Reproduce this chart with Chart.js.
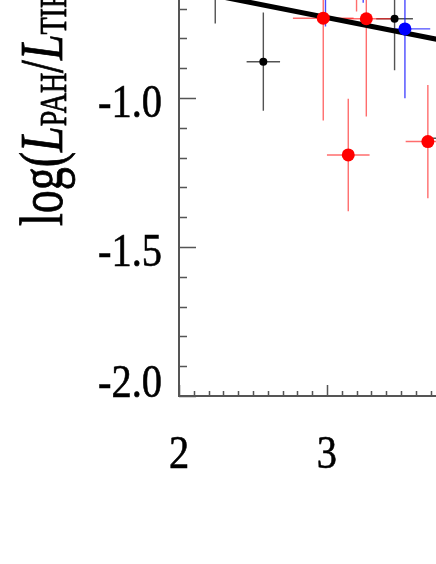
<!DOCTYPE html>
<html>
<head>
<meta charset="utf-8">
<script src="https://cdn.jsdelivr.net/npm/chart.js@4.4.0/dist/chart.umd.min.js"></script>
<style>
    html, body { margin: 0; padding: 0; background: #fff; overflow: hidden; }
    #wrap { width: 436px; height: 564px; }
</style>
</head>
<body>
<div id="wrap"><canvas id="pahChart" width="436" height="564"></canvas></div>
<script>
// visible window of the plot (top and right run off the picture)
const xMin = 2.0
const xMax = 3.737
const yMin = -2.0
const yMax = -0.671
const xTickLabels = [2, 3]
const yTickLabels = [-2.0, -1.5, -1.0]

// red sample
const redX = [2.975, 3.266, 3.144, 3.682, 3.20]
const redY = [-0.732, -0.734, -1.191, -1.146, -0.52]
const redXErr = [0.205, 0.20, 0.144, 0.15, 0.15]
const redYErr = [0.343, 0.328, 0.189, 0.19, 0.19]

// black sample
const blackX = [2.570, 3.457, 2.245, 3.85]
const blackY = [-0.878, -0.734, -0.58, -1.135]
const blackXErr = [0.113, 0.124, 0.10, 0.15]
const blackYErr = [0.165, 0.173, 0.17, 0.15]

// blue sample
const blueX = [3.527, 2.99, 3.245]
const blueY = [-0.768, -0.55, -0.48]
const blueXErr = [0.171, 0.15, 0.15]
const blueYErr = [0.233, 0.21, 0.20]

// linear fit
const fitX = [2.0, 4.0]
const fitY = [-0.632, -0.828]

function toPoints(xs, ys) {
    return xs.map((v, i) => ({ x: v, y: ys[i] }))
}

// error bars, drawn under the line and the points
const errorBars = {
    id: 'errorBars',
    beforeDatasetsDraw(chart) {
        const { ctx, chartArea, scales: { x, y } } = chart
        ctx.save()
        ctx.beginPath()
        ctx.rect(chartArea.left, chartArea.top, chartArea.width, chartArea.height)
        ctx.clip()
        chart.data.datasets.forEach(ds => {
            if (!ds.errX) return
            ctx.strokeStyle = ds.barColor
            ctx.lineWidth = 1.4
            ds.data.forEach((p, i) => {
                const px = x.getPixelForValue(p.x)
                const py = y.getPixelForValue(p.y)
                ctx.beginPath()
                ctx.moveTo(x.getPixelForValue(p.x - ds.errX[i]), py)
                ctx.lineTo(x.getPixelForValue(p.x + ds.errX[i]), py)
                ctx.moveTo(px, y.getPixelForValue(p.y - ds.errY[i]))
                ctx.lineTo(px, y.getPixelForValue(p.y + ds.errY[i]))
                ctx.stroke()
            })
        })
        ctx.restore()
    }
}

// draw text a bit heavier, like the original postscript fonts
function heavyText(ctx, t, x, y) {
    ctx.fillText(t, x, y)
    ctx.strokeText(t, x, y)
}

// tick marks pointing into the plot, plus the tick labels (tall, narrow serif)
const innerTicks = {
    id: 'innerTicks',
    afterDraw(chart) {
        const { ctx, chartArea: a, scales: { x, y } } = chart
        ctx.save()
        ctx.strokeStyle = '#555'
        ctx.lineWidth = 1.5
        ctx.beginPath()
        for (let k = 0; k <= 20; k++) {
            const v = yMin + k * 0.1
            if (v > yMax) break
            const py = Math.round(y.getPixelForValue(v)) + 0.5
            const len = k % 5 === 0 ? 17 : 8
            ctx.moveTo(a.left, py)
            ctx.lineTo(a.left + len, py)
        }
        for (let k = 0; k <= 20; k++) {
            const v = xMin + k * 0.1
            if (v > xMax) break
            const px = Math.round(x.getPixelForValue(v)) + 0.5
            const len = k % 10 === 0 ? 11 : 5
            ctx.moveTo(px, a.bottom)
            ctx.lineTo(px, a.bottom - len)
        }
        ctx.stroke()

        ctx.fillStyle = '#000'
        ctx.strokeStyle = '#000'
        ctx.lineWidth = 0.6
        ctx.font = '46px "Liberation Serif"'
        ctx.textBaseline = 'alphabetic'
        const sx = 0.88
        yTickLabels.forEach(v => {
            const py = Math.min(y.getPixelForValue(v) + 19, a.bottom + 1)
            ctx.save()
            ctx.translate(a.left - 17, py)
            ctx.scale(sx, 1)
            ctx.textAlign = 'right'
            heavyText(ctx, v.toFixed(1), 0, 0)
            ctx.restore()
        })
        xTickLabels.forEach(v => {
            ctx.save()
            ctx.translate(x.getPixelForValue(v), a.bottom + 72)
            ctx.scale(sx, 1)
            ctx.textAlign = 'center'
            heavyText(ctx, String(v), 0, 0)
            ctx.restore()
        })
        ctx.restore()
    }
}

// rotated y title with italic L and subscripts
const yTitle = {
    id: 'yTitle',
    afterDraw(chart) {
        const ctx = chart.ctx
        const big = 46
        const small = 28
        const parts = [
            { t: 'log(', f: big + 'px "Liberation Serif"', dy: 0 },
            { t: 'L', f: 'italic ' + big + 'px "Liberation Serif"', dy: 0 },
            { t: 'PAH', f: small + 'px "Liberation Serif"', dy: 3 },
            { t: '/', f: big + 'px "Liberation Serif"', dy: 0 },
            { t: 'L', f: 'italic ' + big + 'px "Liberation Serif"', dy: 0 },
            { t: 'TIR', f: small + 'px "Liberation Serif"', dy: 3 },
            { t: ')', f: big + 'px "Liberation Serif"', dy: 0 }
        ]
        ctx.save()
        ctx.translate(62, 226)
        ctx.rotate(-Math.PI / 2)
        ctx.scale(1, 1.32)
        ctx.fillStyle = '#000'
        ctx.strokeStyle = '#000'
        ctx.lineWidth = 0.6
        ctx.textBaseline = 'alphabetic'
        let cx = 0
        parts.forEach(p => {
            ctx.font = p.f
            heavyText(ctx, p.t, cx, p.dy)
            cx += ctx.measureText(p.t).width
        })
        ctx.restore()
    }
}

new Chart(document.getElementById('pahChart'), {
    type: 'scatter',
    data: {
        datasets: [
            {
                type: 'line',
                data: toPoints(fitX, fitY),
                borderColor: '#000',
                borderWidth: 5,
                pointRadius: 0,
                order: 10
            },
            {
                data: toPoints(blackX, blackY),
                errX: blackXErr,
                errY: blackYErr,
                barColor: 'rgba(40, 40, 40, 0.8)',
                backgroundColor: '#000',
                borderWidth: 0,
                pointRadius: 4,
                order: 3
            },
            {
                data: toPoints(redX, redY),
                errX: redXErr,
                errY: redYErr,
                barColor: 'rgba(255, 30, 30, 0.65)',
                backgroundColor: '#ff0000',
                borderWidth: 0,
                pointRadius: 6.5,
                order: 2
            },
            {
                data: toPoints(blueX, blueY),
                errX: blueXErr,
                errY: blueYErr,
                barColor: 'rgba(30, 30, 255, 0.8)',
                backgroundColor: '#0000ff',
                borderWidth: 0,
                pointRadius: 6.5,
                order: 1
            }
        ]
    },
    options: {
        responsive: false,
        animation: false,
        events: [],
        layout: { padding: 0, autoPadding: false },
        plugins: {
            legend: { display: false },
            tooltip: { enabled: false }
        },
        scales: {
            x: {
                type: 'linear',
                min: xMin,
                max: xMax,
                grid: { display: false },
                border: { color: '#555', width: 2 },
                ticks: { display: false },
                afterBuildTicks: s => { s.ticks = xTickLabels.map(v => ({ value: v })) },
                afterFit: s => {
                    s.height = 168
                    s.paddingLeft = 0
                    s.paddingRight = 0
                    s.paddingTop = 0
                    s.paddingBottom = 0
                }
            },
            y: {
                type: 'linear',
                min: yMin,
                max: yMax,
                grid: { display: false },
                border: { color: '#555', width: 2 },
                ticks: { display: false },
                afterBuildTicks: s => { s.ticks = yTickLabels.map(v => ({ value: v })) },
                afterFit: s => {
                    s.width = 179
                    s.paddingLeft = 0
                    s.paddingRight = 0
                    s.paddingTop = 0
                    s.paddingBottom = 0
                }
            }
        }
    },
    plugins: [errorBars, innerTicks, yTitle]
})
</script>
</body>
</html>
